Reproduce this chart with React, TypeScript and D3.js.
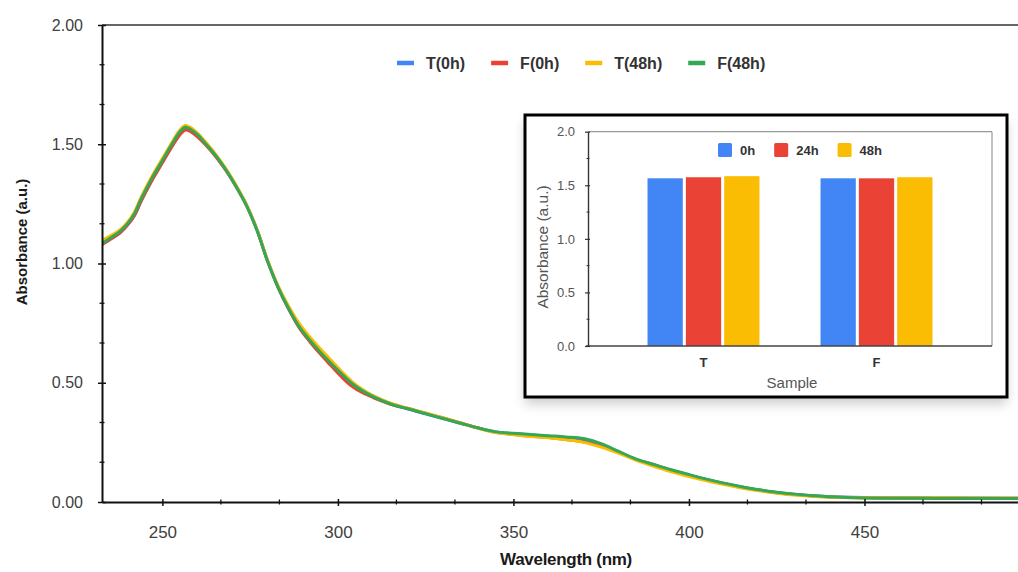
import React, { useEffect, useRef } from 'react'
import * as d3 from 'd3'

// UV-vis spectra, wavelength in nm
const wavelength = [
  232.8, 235, 238, 240, 242, 244, 247, 250, 253, 255,
  256.5, 258, 260, 262, 265, 268, 271, 274, 277, 280,
  283, 286, 289, 292, 295, 298, 301, 304, 307, 310,
  315, 320, 325, 330, 335, 340, 345, 350, 355, 360,
  365, 370, 375, 380, 385, 390, 395, 400, 405, 410,
  415, 420, 425, 430, 435, 440, 450, 460, 470, 480,
  490, 500,
]

const absT0 = [
  1.080, 1.100, 1.130, 1.160, 1.200, 1.265, 1.350, 1.425, 1.500, 1.545,
  1.566, 1.558, 1.535, 1.505, 1.455, 1.395, 1.325, 1.245, 1.140, 1.010,
  0.900, 0.810, 0.735, 0.680, 0.630, 0.585, 0.540, 0.500, 0.470, 0.445,
  0.412, 0.390, 0.370, 0.350, 0.330, 0.310, 0.294, 0.287, 0.281, 0.276,
  0.270, 0.262, 0.240, 0.210, 0.178, 0.155, 0.132, 0.113, 0.095, 0.078,
  0.063, 0.050, 0.040, 0.032, 0.026, 0.022, 0.019, 0.018, 0.017, 0.017,
  0.016, 0.016,
]

const absF0 = [
  1.080, 1.100, 1.130, 1.160, 1.200, 1.263, 1.347, 1.422, 1.496, 1.540,
  1.560, 1.553, 1.531, 1.502, 1.452, 1.392, 1.322, 1.242, 1.138, 1.008,
  0.898, 0.808, 0.730, 0.672, 0.620, 0.572, 0.525, 0.485, 0.458, 0.438,
  0.410, 0.392, 0.372, 0.352, 0.331, 0.310, 0.292, 0.283, 0.276, 0.270,
  0.262, 0.252, 0.233, 0.207, 0.178, 0.157, 0.133, 0.112, 0.093, 0.077,
  0.062, 0.049, 0.039, 0.031, 0.025, 0.021, 0.018, 0.017, 0.017, 0.016,
  0.016, 0.016,
]

const absT48 = [
  1.098, 1.115, 1.142, 1.172, 1.215, 1.280, 1.365, 1.440, 1.515, 1.560,
  1.579, 1.571, 1.547, 1.515, 1.462, 1.400, 1.328, 1.246, 1.140, 1.012,
  0.905, 0.820, 0.748, 0.692, 0.642, 0.595, 0.548, 0.505, 0.472, 0.446,
  0.414, 0.393, 0.373, 0.353, 0.331, 0.309, 0.291, 0.282, 0.275, 0.269,
  0.261, 0.250, 0.230, 0.204, 0.175, 0.150, 0.127, 0.107, 0.089, 0.073,
  0.059, 0.047, 0.037, 0.029, 0.024, 0.020, 0.018, 0.018, 0.018, 0.017,
  0.017, 0.017,
]

const absF48 = [
  1.085, 1.105, 1.136, 1.166, 1.208, 1.272, 1.357, 1.432, 1.507, 1.552,
  1.571, 1.563, 1.540, 1.508, 1.456, 1.395, 1.323, 1.242, 1.137, 1.008,
  0.899, 0.810, 0.734, 0.678, 0.628, 0.582, 0.538, 0.497, 0.466, 0.442,
  0.411, 0.391, 0.370, 0.350, 0.330, 0.310, 0.294, 0.288, 0.283, 0.278,
  0.273, 0.266, 0.245, 0.212, 0.180, 0.157, 0.135, 0.115, 0.096, 0.079,
  0.064, 0.051, 0.041, 0.033, 0.027, 0.022, 0.017, 0.016, 0.015, 0.015,
  0.015, 0.015,
]

const seriesNames = ['T(0h)', 'F(0h)', 'T(48h)', 'F(48h)']
const lineColors = ['#4285f4', '#ea4335', '#fbbc04', '#34a853']

const xTicks = [250, 300, 350, 400, 450]
const yTicks = [0, 0.5, 1, 1.5, 2]

// inset bar chart
const samples = ['T', 'F']
const times = ['0h', '24h', '48h']
const bar0h = [1.565, 1.565]
const bar24h = [1.575, 1.565]
const bar48h = [1.585, 1.575]
const insetTicks = [0, 0.5, 1, 1.5, 2]

const W = 1018
const H = 572
const plot = { left: 102, right: 1040, top: 25, bottom: 502 }
const inset = { x: 525, y: 115, w: 482, h: 282 }
const iplot = { left: 588, right: 992, top: 131.7, bottom: 346 }

const FONT = "'Liberation Sans', Arial, sans-serif"

const App = () => {
  const ref = useRef<SVGSVGElement>(null)

  useEffect(() => {
    if (!ref.current) return
    const svg = d3.select(ref.current)
    svg.selectAll('*').remove()

    const x = d3.scaleLinear().domain([232.8, 500]).range([plot.left, plot.right])
    const y = d3.scaleLinear().domain([0, 2]).range([plot.bottom, plot.top])

    const defs = svg.append('defs')
    defs.append('clipPath').attr('id', 'plotClip')
      .append('rect')
      .attr('x', plot.left).attr('y', plot.top - 5)
      .attr('width', W - plot.left).attr('height', plot.bottom - plot.top + 5)
    const shadow = defs.append('filter').attr('id', 'insetShadow')
      .attr('x', '-10%').attr('y', '-10%').attr('width', '120%').attr('height', '130%')
    shadow.append('feDropShadow')
      .attr('dx', 0).attr('dy', 7).attr('stdDeviation', 6)
      .attr('flood-color', '#000').attr('flood-opacity', 0.2)

    // top frame line
    svg.append('line')
      .attr('x1', plot.left).attr('x2', W)
      .attr('y1', y(2)).attr('y2', y(2))
      .attr('stroke', '#333').attr('stroke-width', 1.5)

    // spectra
    const line = d3.line<number>()
      .x((d, i) => x(wavelength[i]))
      .y(d => y(d))
      .curve(d3.curveCatmullRom.alpha(0.5))
    const series = [absT0, absF0, absT48, absF48]
    series.forEach((s, i) => {
      svg.append('path')
        .datum(s)
        .attr('d', line)
        .attr('fill', 'none')
        .attr('stroke', lineColors[i])
        .attr('stroke-width', 3)
        .attr('stroke-linejoin', 'round')
        .attr('clip-path', 'url(#plotClip)')
    })

    // y axis
    const yAxis = svg.append('g')
      .attr('transform', `translate(${plot.left},0)`)
      .call(d3.axisLeft(y).tickValues(yTicks).tickFormat(d3.format('.2f')).tickSize(4).tickPadding(15).tickSizeOuter(0))
    yAxis.select('.domain').attr('stroke', '#111').attr('stroke-width', 2)
    yAxis.selectAll('.tick line').attr('x1', 4).attr('x2', -4).attr('stroke', '#111').attr('stroke-width', 1.5)
    yAxis.selectAll('.tick text')
      .attr('font-family', FONT).attr('font-size', 16).attr('fill', '#404040')

    const yMinor = d3.range(0, 2.001, 0.5 / 3).filter(v => Math.abs(v * 2 - Math.round(v * 2)) > 0.01)
    svg.append('g').selectAll('line').data(yMinor).enter().append('line')
      .attr('x1', plot.left - 2.5).attr('x2', plot.left + 2.5)
      .attr('y1', d => y(d)).attr('y2', d => y(d))
      .attr('stroke', '#111').attr('stroke-width', 1.3)

    // x axis
    const xAxis = svg.append('g')
      .attr('transform', `translate(0,${plot.bottom})`)
      .call(d3.axisBottom(x).tickValues(xTicks).tickSize(4).tickPadding(20).tickSizeOuter(0))
    xAxis.select('.domain').attr('stroke', '#111').attr('stroke-width', 2)
    xAxis.selectAll('.tick line').attr('y1', -3).attr('y2', 4).attr('stroke', '#111').attr('stroke-width', 1.5)
    xAxis.selectAll('.tick text')
      .attr('font-family', FONT).attr('font-size', 17).attr('fill', '#404040')

    const xMinor = d3.range(250, 500, 50 / 3).filter(v => Math.abs(v / 50 - Math.round(v / 50)) > 0.01)
    svg.append('g').selectAll('line').data(xMinor).enter().append('line')
      .attr('x1', d => x(d)).attr('x2', d => x(d))
      .attr('y1', plot.bottom - 2.5).attr('y2', plot.bottom + 2.5)
      .attr('stroke', '#111').attr('stroke-width', 1.3)

    // axis titles
    svg.append('text')
      .attr('transform', `translate(21,242) rotate(-90)`)
      .attr('text-anchor', 'middle').attr('dominant-baseline', 'central')
      .attr('font-family', FONT).attr('font-size', 15).attr('font-weight', 'bold').attr('fill', '#1a1a1a')
      .text('Absorbance (a.u.)')
    svg.append('text')
      .attr('x', 566).attr('y', 565)
      .attr('text-anchor', 'middle')
      .attr('font-family', FONT).attr('font-size', 17).attr('font-weight', 'bold').attr('fill', '#1a1a1a')
      .attr('letter-spacing', -0.3)
      .text('Wavelength (nm)')

    // legend
    let lx = 397
    seriesNames.forEach((name, i) => {
      const g = svg.append('g')
      g.append('line')
        .attr('x1', lx).attr('x2', lx + 17).attr('y1', 63).attr('y2', 63)
        .attr('stroke', lineColors[i]).attr('stroke-width', 4.5)
      const t = g.append('text')
        .attr('x', lx + 29).attr('y', 63).attr('dy', '0.35em')
        .attr('font-family', FONT).attr('font-size', 16).attr('font-weight', 'bold').attr('fill', '#333')
        .text(name)
      lx += 29 + (t.node() as SVGTextElement).getComputedTextLength() + 26
    })

    // ---- inset ----
    const ig = svg.append('g')
    ig.append('rect')
      .attr('x', inset.x).attr('y', inset.y).attr('width', inset.w).attr('height', inset.h)
      .attr('fill', '#fff').attr('filter', 'url(#insetShadow)')
    ig.append('rect')
      .attr('x', inset.x).attr('y', inset.y).attr('width', inset.w).attr('height', inset.h)
      .attr('fill', 'none').attr('stroke', '#000').attr('stroke-width', 3)

    const yi = d3.scaleLinear().domain([0, 2]).range([iplot.bottom, iplot.top])
    const x0 = d3.scaleBand().domain(samples).range([iplot.left, iplot.right]).paddingInner(0.353).paddingOuter(0.344)
    const x1 = d3.scaleBand().domain(times).range([0, x0.bandwidth()]).paddingInner(0.08)
    const barSeries = [bar0h, bar24h, bar48h]

    // frame
    ig.append('line')
      .attr('x1', iplot.left).attr('x2', iplot.right).attr('y1', iplot.top).attr('y2', iplot.top)
      .attr('stroke', '#999').attr('stroke-width', 1.2)
    ig.append('line')
      .attr('x1', iplot.right).attr('x2', iplot.right).attr('y1', iplot.top).attr('y2', iplot.bottom)
      .attr('stroke', '#999').attr('stroke-width', 1.2)

    samples.forEach((s, i) => {
      times.forEach((t, j) => {
        const v = barSeries[j][i]
        ig.append('rect')
          .attr('x', (x0(s) as number) + (x1(t) as number))
          .attr('y', yi(v))
          .attr('width', x1.bandwidth())
          .attr('height', iplot.bottom - yi(v))
          .attr('fill', lineColors[j])
      })
    })

    ig.append('line')
      .attr('x1', iplot.left - 2).attr('x2', iplot.right).attr('y1', iplot.bottom).attr('y2', iplot.bottom)
      .attr('stroke', '#444').attr('stroke-width', 1.4)

    const iyAxis = ig.append('g')
      .attr('transform', `translate(${iplot.left},0)`)
      .call(d3.axisLeft(yi).tickValues(insetTicks).tickFormat(d3.format('.1f')).tickSize(3).tickPadding(10).tickSizeOuter(0))
    iyAxis.select('.domain').attr('stroke', '#333').attr('stroke-width', 1.4)
    iyAxis.selectAll('.tick line').attr('x1', 2).attr('x2', -3).attr('stroke', '#333').attr('stroke-width', 1.2)
    iyAxis.selectAll('.tick text')
      .attr('font-family', FONT).attr('font-size', 13).attr('fill', '#555')

    const iyMinor = d3.range(0.25, 2, 0.5)
    ig.append('g').selectAll('line').data(iyMinor).enter().append('line')
      .attr('x1', iplot.left - 1.5).attr('x2', iplot.left + 1.5)
      .attr('y1', d => yi(d)).attr('y2', d => yi(d))
      .attr('stroke', '#333').attr('stroke-width', 1)

    samples.forEach(s => {
      ig.append('text')
        .attr('x', (x0(s) as number) + x0.bandwidth() / 2).attr('y', 367)
        .attr('text-anchor', 'middle')
        .attr('font-family', FONT).attr('font-size', 13).attr('font-weight', 'bold').attr('fill', '#333')
        .text(s)
    })

    ig.append('text')
      .attr('x', 792).attr('y', 388)
      .attr('text-anchor', 'middle')
      .attr('font-family', FONT).attr('font-size', 15).attr('fill', '#555')
      .text('Sample')
    ig.append('text')
      .attr('transform', `translate(542,247) rotate(-90)`)
      .attr('text-anchor', 'middle').attr('dominant-baseline', 'central')
      .attr('font-family', FONT).attr('font-size', 15.5).attr('fill', '#555')
      .text('Absorbance (a.u.)')

    // inset legend
    let ix = 718
    times.forEach((t, j) => {
      ig.append('rect')
        .attr('x', ix).attr('y', 143).attr('width', 14).attr('height', 14).attr('rx', 1.5)
        .attr('fill', lineColors[j])
      const tx = ig.append('text')
        .attr('x', ix + 22).attr('y', 150).attr('dy', '0.35em')
        .attr('font-family', FONT).attr('font-size', 13).attr('font-weight', 'bold').attr('fill', '#333')
        .text(t)
      ix += 22 + (tx.node() as SVGTextElement).getComputedTextLength() + 19
    })
  }, [])

  return (
    <svg
      ref={ref}
      width={W}
      height={H}
      style={{ position: 'absolute', left: 0, top: 0, background: '#fff' }}
    ></svg>
  )
}

export default App
